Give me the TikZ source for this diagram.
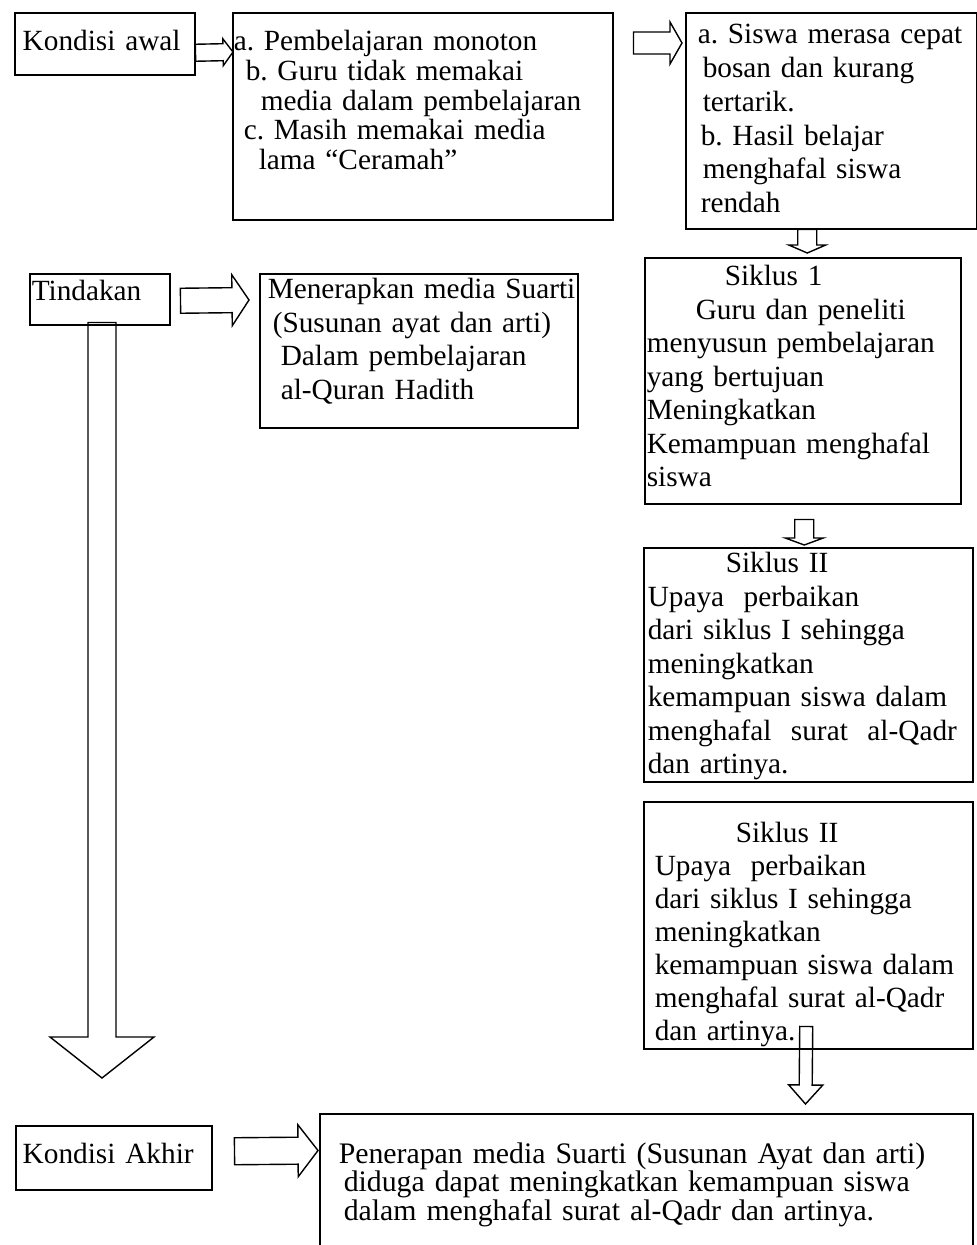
\documentclass[tikz,border=0pt]{standalone}
\usepackage{fontspec}
\setmainfont{Liberation Serif}
\usetikzlibrary{calc}

\newcommand{\panah}[5]{%
  \coordinate (pa) at #1;
  \coordinate (pb) at #2;
  \coordinate (pc) at ($(pb)!#5pt!(pa)$);
  \draw[garis] ($(pa)!#3pt!90:(pb)$) -- ($(pc)!#3pt!-90:(pa)$) -- ($(pc)!#4pt!-90:(pa)$)
    -- (pb) -- ($(pc)!#4pt!90:(pa)$) -- ($(pc)!#3pt!90:(pa)$) -- ($(pa)!#3pt!-90:(pb)$) -- cycle;}

\begin{document}
\begin{tikzpicture}[x=1pt,y=-1pt,
    kotak/.style={draw,line width=1.5pt,anchor=north west,inner sep=0pt,align=left,
      font=\frenchspacing\fontsize{29.3}{33.5}\selectfont},
    garis/.style={line width=1.4pt,line join=miter}]
\useasboundingbox (0,0) rectangle (977,1245);
\clip (0,0) rectangle (977,1245);

\node[kotak,text width=180pt,text height=38pt,text depth=24pt] (kawal) at (14,12) {\hspace*{8pt}Kondisi awal};
\node[kotak,text width=380pt,text height=38pt,text depth=169pt,font=\frenchspacing\fontsize{29.3}{29.7}\selectfont] (kondisi) at (232,12)
  {\hspace*{1pt}a. Pembelajaran monoton\\ \hspace*{13pt}b. Guru tidak memakai\\ \hspace*{28pt}media dalam pembelajaran\\
   \hspace*{11pt}c. Masih memakai media\\ \hspace*{26pt}lama “Ceramah”};
\node[kotak,text width=291pt,text height=31pt,text depth=185pt,font=\frenchspacing\fontsize{29.3}{33.8}\selectfont] (akibat) at (685,12)
  {\hspace*{12pt}a. Siswa merasa cepat\\ \hspace*{17pt}bosan dan kurang\\ \hspace*{17pt}tertarik.\\
   \hspace*{15pt}b. Hasil belajar\\ \hspace*{17pt}menghafal siswa\\ \hspace*{15pt}rendah};
\node[kotak,text width=140pt,text height=27pt,text depth=24pt] (tindakan) at (29,273) {\hspace*{2pt}Tindakan};
\node[kotak,text width=318pt,text height=25pt,text depth=129pt] (menerapkan) at (259,273)
  {\hspace*{8pt}Menerapkan media Suarti\\ \hspace*{13pt}(Susunan ayat dan arti)\\ \hspace*{21pt}Dalam pembelajaran\\ \hspace*{21pt}al-Quran Hadith};
\node[kotak,text width=316pt,text height=28pt,text depth=218pt] (siklus1) at (644,257)
  {\hspace*{80pt}Siklus 1\\ \hspace*{51pt}Guru dan peneliti\\ \hspace*{2pt}menyusun pembelajaran\\ \hspace*{2pt}yang bertujuan\\
   \hspace*{2pt}Meningkatkan\\ \hspace*{2pt}Kemampuan menghafal\\ \hspace*{2pt}siswa};
\node[kotak,text width=329pt,text height=25pt,text depth=209pt] (siklus2a) at (643,547)
  {\hspace*{82pt}Siklus II\\ \hspace*{4pt}Upaya~ perbaikan\\ \hspace*{4pt}dari siklus I sehingga\\ \hspace*{4pt}meningkatkan\\
   \hspace*{4pt}kemampuan siswa dalam\\ \hspace*{4pt}menghafal~ surat~ al-Qadr\\ \hspace*{4pt}dan artinya.};
\node[kotak,text width=329pt,text height=41pt,text depth=206pt,font=\frenchspacing\fontsize{29.3}{33}\selectfont] (siklus2b) at (643,801)
  {\hspace*{92pt}Siklus II\\ \hspace*{11pt}Upaya~ perbaikan\\ \hspace*{11pt}dari siklus I sehingga\\ \hspace*{11pt}meningkatkan\\
   \hspace*{11pt}kemampuan siswa dalam\\ \hspace*{11pt}menghafal surat al-Qadr\\ \hspace*{11pt}dan artinya.};
\node[kotak,text width=196pt,text height=38pt,text depth=26pt] (akhir) at (15,1125) {\hspace*{7pt}Kondisi Akhir};
\node[kotak,text width=653pt,text height=50pt,text depth=147pt,font=\frenchspacing\fontsize{29.8}{25}\selectfont] (penerapan) at (319,1113)
  {\hspace*{19pt}Penerapan media Suarti (Susunan Ayat dan arti)\\ \hspace*{24pt}diduga dapat meningkatkan kemampuan siswa\\
   \hspace*{24pt}dalam menghafal surat al-Qadr dan artinya.};

\panah{($(kawal.east)+(0,9)$)}{($(kondisi.north west)+(1,40)$)}{8.5}{13.5}{10}
\panah{($(kondisi.north east)+(20,31)$)}{($(akibat.north west)+(-3,31)$)}{11}{21}{12}
\panah{($(akibat.south)+(-24,0)$)}{($(siklus1.north)+(4.5,-4)$)}{9.5}{18.5}{8}
\panah{($(tindakan.east)+(10,1.5)$)}{($(menerapkan.north west)+(-10,27)$)}{12.5}{25.5}{17}
\panah{($(tindakan.south west)+(73,-3)$)}{($(akhir.north west)+(87,-47)$)}{14}{52}{41}
\panah{($(siklus1.south)+(1.5,15)$)}{($(siklus2a.north)+(-4,-2)$)}{9.5}{19}{7}
\panah{($(siklus2b.south)+(-2,-23)$)}{($(penerapan.north west)+(486.5,-9)$)}{6.5}{17}{19}
\panah{($(akhir.east)+(22,-6.5)$)}{($(penerapan.north west)+(-1,37.5)$)}{13.5}{26}{20}
\end{tikzpicture}
\end{document}
